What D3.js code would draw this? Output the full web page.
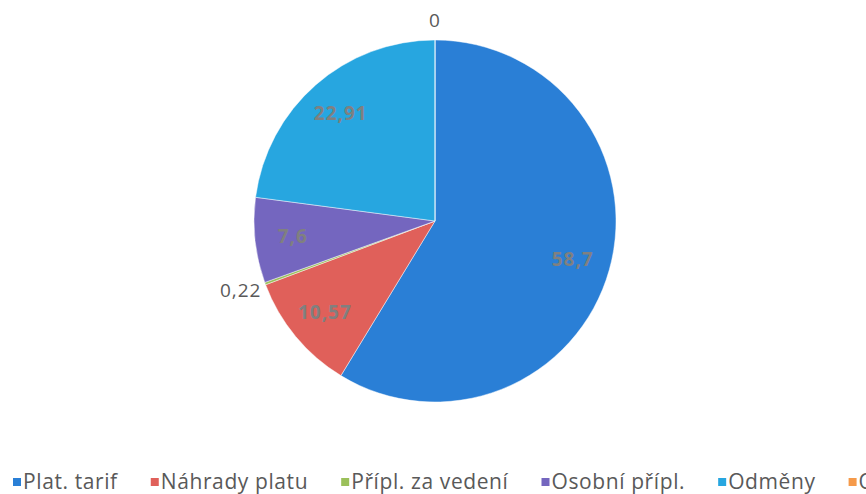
<!DOCTYPE html>
<html>
<head>
<meta charset="utf-8">
<script src="https://cdn.jsdelivr.net/npm/d3@7"></script>
<style>
  body { margin: 0; background: #fff; overflow: hidden; }
  svg { display: block; font-family: "Open Sans", sans-serif; }
</style>
</head>
<body>
<svg id="chart" width="866" height="494"></svg>
<script>
const categories = ["Plat. tarif", "Náhrady platu", "Přípl. za vedení", "Osobní přípl.", "Odměny", "Ostatní"];
const values = [58.7, 10.57, 0.22, 7.6, 22.91, 0];
const labels = ["58,7", "10,57", "0,22", "7,6", "22,91", "0"];
const colors = ["#2a7fd6", "#e0605a", "#9bc05a", "#7466bf", "#27a6e0", "#f59a4a"];

const cx = 435, cy = 221, radius = 181;

const svg = d3.select("#chart");
const data = categories.map((c, i) => ({ name: c, value: values[i], label: labels[i], color: colors[i] }));

const pie = d3.pie().sort(null).value(d => d.value);
const arcs = pie(data);
const arc = d3.arc().innerRadius(0).outerRadius(radius);
const labelArc = d3.arc().innerRadius(radius * 0.79).outerRadius(radius * 0.79);
const outerArc = d3.arc().innerRadius(radius + 20).outerRadius(radius + 20);

const g = svg.append("g").attr("transform", `translate(${cx},${cy})`);

g.selectAll(".slice")
  .data(arcs)
  .join("path")
  .attr("class", "slice")
  .attr("d", arc)
  .attr("fill", d => d.data.color)
  .attr("stroke", "rgba(255,255,255,0.45)")
  .attr("stroke-width", 1);

// small slices get their label outside
const inside = d => d.data.value >= 5;

g.selectAll(".label")
  .data(arcs)
  .join("text")
  .attr("class", "label")
  .attr("transform", d => {
    const [x, y] = inside(d) ? labelArc.centroid(d) : outerArc.centroid(d);
    return `translate(${x},${y})`;
  })
  .attr("text-anchor", d => (inside(d) || d.data.value === 0 ? "middle" : "end"))
  .attr("dx", d => (!inside(d) && d.data.value > 0 ? 15 : 0))
  .attr("dy", "0.36em")
  .attr("font-size", 19)
  .attr("letter-spacing", 1)
  .attr("font-weight", d => (inside(d) ? "bold" : "normal"))
  .attr("fill", d => (inside(d) ? "#808080" : "#595959"))
  .text(d => d.data.label);

// legend, laid out left to right from measured text widths
const legend = svg.append("g").attr("transform", "translate(0,489)");
let lx = 13;
data.forEach(d => {
  const item = legend.append("g").attr("transform", `translate(${lx},0)`);
  item.append("rect")
    .attr("x", 0)
    .attr("y", -11)
    .attr("width", 8)
    .attr("height", 8)
    .attr("fill", d.color);
  const t = item.append("text")
    .attr("x", 10)
    .attr("y", 0)
    .attr("font-size", 21)
    .attr("letter-spacing", 0.6)
    .attr("fill", "#595959")
    .text(d.name);
  lx += 10 + t.node().getComputedTextLength() + 33;
});
</script>
</body>
</html>
